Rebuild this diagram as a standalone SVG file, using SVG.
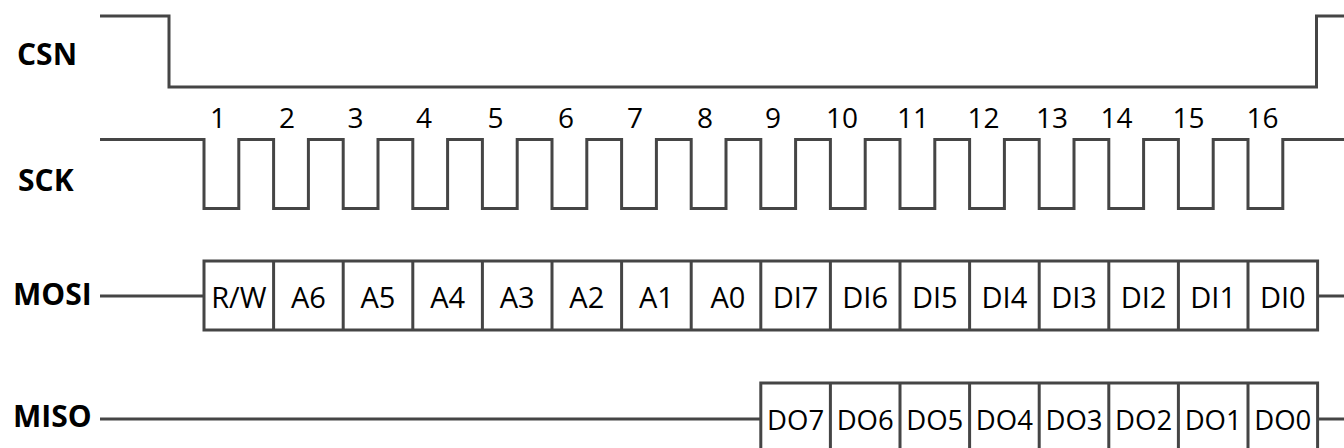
<svg xmlns="http://www.w3.org/2000/svg" width="1344" height="448" viewBox="0 0 1344 448">
<style>
  .wave { fill: none; stroke: #454545; stroke-width: 3; stroke-linejoin: miter; stroke-linecap: butt; }
  .box { fill: #ffffff; stroke: #454545; stroke-width: 3; }
  .sig { font-family: "Open Sans", "Noto Sans", sans-serif; font-weight: bold; font-size: 30px; fill: #000000; }
  .num { font-family: "Open Sans", "Noto Sans", sans-serif; font-size: 28px; fill: #000000; text-anchor: middle; }
  .bit { font-family: "Open Sans", "Noto Sans", sans-serif; font-size: 29px; fill: #000000; text-anchor: middle; }
  .bito { font-family: "Open Sans", "Noto Sans", sans-serif; font-size: 27.5px; fill: #000000; text-anchor: middle; }
</style>
<rect x="0" y="0" width="1344" height="448" fill="#ffffff"/>

<g id="csn">
  <text class="sig" x="17" y="65">CSN</text>
  <path class="wave" d="M100 16 H169 V87 H1316.5 V16 H1344"/>
</g>

<g id="sck">
  <text class="sig" x="18" y="191">SCK</text>
  <path class="wave" d="M100 139.5 H204 V208.5 H238.8 V139.5 H273.6 V208.5 H308.4 V139.5 H343.2 V208.5 H378 V139.5 H412.8 V208.5 H447.6 V139.5 H482.4 V208.5 H517.2 V139.5 H552 V208.5 H586.8 V139.5 H621.6 V208.5 H656.4 V139.5 H691.2 V208.5 H726 V139.5 H760.8 V208.5 H795.6 V139.5 H830.4 V208.5 H865.2 V139.5 H900 V208.5 H934.8 V139.5 H969.6 V208.5 H1004.4 V139.5 H1039.2 V208.5 H1074 V139.5 H1108.8 V208.5 H1143.6 V139.5 H1178.4 V208.5 H1213.2 V139.5 H1248 V208.5 H1282.8 V139.5 H1344"/>
  <g id="sck-numbers">
    <text class="num" x="218" y="128">1</text>
    <text class="num" x="287" y="128">2</text>
    <text class="num" x="355.5" y="128">3</text>
    <text class="num" x="424" y="128">4</text>
    <text class="num" x="495.5" y="128">5</text>
    <text class="num" x="566" y="128">6</text>
    <text class="num" x="635" y="128">7</text>
    <text class="num" x="705" y="128">8</text>
    <text class="num" x="773" y="128">9</text>
    <text class="num" x="842" y="128">10</text>
    <text class="num" x="913" y="128">11</text>
    <text class="num" x="983.5" y="128">12</text>
    <text class="num" x="1052" y="128">13</text>
    <text class="num" x="1116.5" y="128">14</text>
    <text class="num" x="1188.5" y="128">15</text>
    <text class="num" x="1262.5" y="128">16</text>
  </g>
</g>

<g id="connectors">
  <path class="wave" d="M100 296 H204"/>
  <path class="wave" d="M1317.6 296 H1344"/>
  <path class="wave" d="M100 419 H760.8"/>
  <path class="wave" d="M1317.6 419 H1344"/>
</g>

<g id="mosi">
  <text class="sig" x="13" y="305">MOSI</text>
  <rect class="box" x="204" y="261" width="1113.6" height="69"/>
  <path class="wave" d="M273.6 261 V330 M343.2 261 V330 M412.8 261 V330 M482.4 261 V330 M552 261 V330 M621.6 261 V330 M691.2 261 V330 M760.8 261 V330 M830.4 261 V330 M900 261 V330 M969.6 261 V330 M1039.2 261 V330 M1108.8 261 V330 M1178.4 261 V330 M1248 261 V330"/>
  <text class="bit" x="238.8" y="308">R/W</text>
  <text class="bit" x="308.4" y="308">A6</text>
  <text class="bit" x="378" y="308">A5</text>
  <text class="bit" x="447.6" y="308">A4</text>
  <text class="bit" x="517.2" y="308">A3</text>
  <text class="bit" x="586.8" y="308">A2</text>
  <text class="bit" x="656.4" y="308">A1</text>
  <text class="bit" x="728" y="308">A0</text>
  <text class="bit" x="795.6" y="308">DI7</text>
  <text class="bit" x="865.2" y="308">DI6</text>
  <text class="bit" x="934.8" y="308">DI5</text>
  <text class="bit" x="1004.4" y="308">DI4</text>
  <text class="bit" x="1074" y="308">DI3</text>
  <text class="bit" x="1143.6" y="308">DI2</text>
  <text class="bit" x="1213.2" y="308">DI1</text>
  <text class="bit" x="1282.8" y="308">DI0</text>
</g>

<g id="miso">
  <text class="sig" x="13" y="427">MISO</text>
  <rect class="box" x="760.8" y="383" width="556.8" height="80"/>
  <path class="wave" d="M830.4 383 V460 M900 383 V460 M969.6 383 V460 M1039.2 383 V460 M1108.8 383 V460 M1178.4 383 V460 M1248 383 V460"/>
  <text class="bito" x="795.6" y="430">DO7</text>
  <text class="bito" x="865.2" y="430">DO6</text>
  <text class="bito" x="934.8" y="430">DO5</text>
  <text class="bito" x="1004.4" y="430">DO4</text>
  <text class="bito" x="1074" y="430">DO3</text>
  <text class="bito" x="1143.6" y="430">DO2</text>
  <text class="bito" x="1213.2" y="430">DO1</text>
  <text class="bito" x="1282.8" y="430">DO0</text>
</g>
</svg>
